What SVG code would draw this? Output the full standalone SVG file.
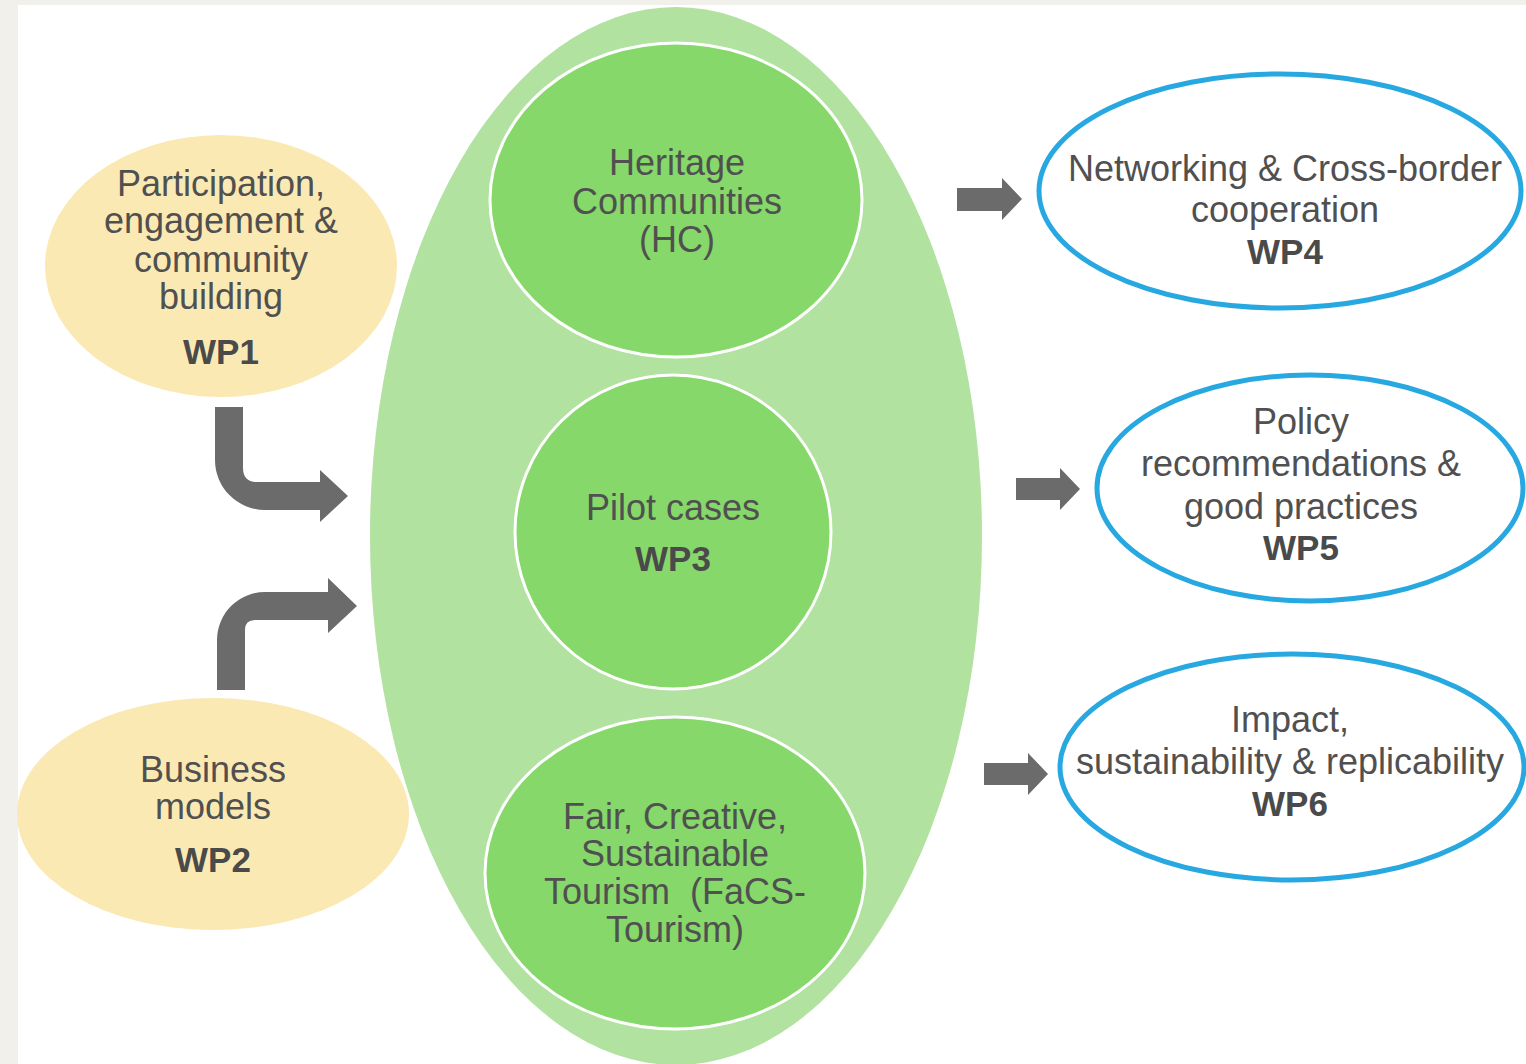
<svg xmlns="http://www.w3.org/2000/svg" width="1526" height="1064" viewBox="0 0 1526 1064">
  <style>
    text { font-family: "Liberation Sans", Arial, sans-serif; font-size: 36px; fill: #505050; text-anchor: middle; }
    .wp { font-weight: bold; font-size: 35px; fill: #4a4a4a; }
    .yellow { fill: #fbe9b4; }
    .inner { fill: #85d869; stroke: #ffffff; stroke-width: 3; }
    .out { fill: #ffffff; stroke: #28a8e0; stroke-width: 5; }
    .arrow { fill: #6b6b6b; }
  </style>

  <!-- page frame -->
  <rect x="0" y="0" width="1526" height="1064" fill="#f1f0eb"/>
  <rect x="18" y="5" width="1508" height="1059" fill="#ffffff"/>

  <!-- large container ellipse -->
  <g id="container">
    <ellipse cx="676" cy="536" rx="306" ry="529" fill="#b1e2a0"/>
  </g>

  <!-- connectors -->
  <g id="connectors">
    <path class="arrow" d="M215,407 L243,407 L243,468 Q243,482 257,482 L320,482 L320,470 L348,496 L320,522 L320,510 L265,510 A50,50 0 0 1 215,460 Z"/>
    <path class="arrow" d="M217,690 L217,640 A48,48 0 0 1 265,592 L328,592 L328,578 L357,606 L328,633 L328,620 L255,620 Q245,620 245,630 L245,690 Z"/>
    <path class="arrow" d="M957,188 L1002,188 L1002,178 L1022,199 L1002,220 L1002,211 L957,211 Z"/>
    <path class="arrow" d="M1016,478 L1060,478 L1060,468 L1080,489 L1060,510 L1060,500 L1016,500 Z"/>
    <path class="arrow" d="M984,763 L1028,763 L1028,753 L1048,774 L1028,795 L1028,785 L984,785 Z"/>
  </g>

  <g id="wp1">
    <ellipse class="yellow" cx="221" cy="266" rx="176" ry="131"/>
    <text x="221" y="196">Participation,</text>
    <text x="221" y="233">engagement &amp;</text>
    <text x="221" y="272">community</text>
    <text x="221" y="309">building</text>
    <text class="wp" x="221" y="364">WP1</text>
  </g>

  <g id="wp2">
    <ellipse class="yellow" cx="213" cy="814" rx="196" ry="116"/>
    <text x="213" y="782">Business</text>
    <text x="213" y="819">models</text>
    <text class="wp" x="213" y="872">WP2</text>
  </g>

  <g id="heritage">
    <ellipse class="inner" cx="676" cy="200" rx="186" ry="157"/>
    <text x="677" y="175">Heritage</text>
    <text x="677" y="214">Communities</text>
    <text x="677" y="252">(HC)</text>
  </g>

  <g id="wp3">
    <ellipse class="inner" cx="673" cy="532" rx="158" ry="157"/>
    <text x="673" y="520">Pilot cases</text>
    <text class="wp" x="673" y="571">WP3</text>
  </g>

  <g id="facs">
    <ellipse class="inner" cx="675" cy="873" rx="190" ry="156"/>
    <text x="675" y="829">Fair, Creative,</text>
    <text x="675" y="866">Sustainable</text>
    <text x="675" y="904" xml:space="preserve">Tourism  (FaCS-</text>
    <text x="675" y="942">Tourism)</text>
  </g>

  <g id="wp4">
    <ellipse class="out" cx="1280" cy="191" rx="241" ry="117"/>
    <text x="1285" y="181">Networking &amp; Cross-border</text>
    <text x="1285" y="222">cooperation</text>
    <text class="wp" x="1285" y="264">WP4</text>
  </g>

  <g id="wp5">
    <ellipse class="out" cx="1310" cy="488" rx="213" ry="113"/>
    <text x="1301" y="434">Policy</text>
    <text x="1301" y="476">recommendations &amp;</text>
    <text x="1301" y="519">good practices</text>
    <text class="wp" x="1301" y="560">WP5</text>
  </g>

  <g id="wp6">
    <ellipse class="out" cx="1292" cy="767" rx="232" ry="113"/>
    <text x="1290" y="732">Impact,</text>
    <text x="1290" y="774">sustainability &amp; replicability</text>
    <text class="wp" x="1290" y="816">WP6</text>
  </g>
</svg>
